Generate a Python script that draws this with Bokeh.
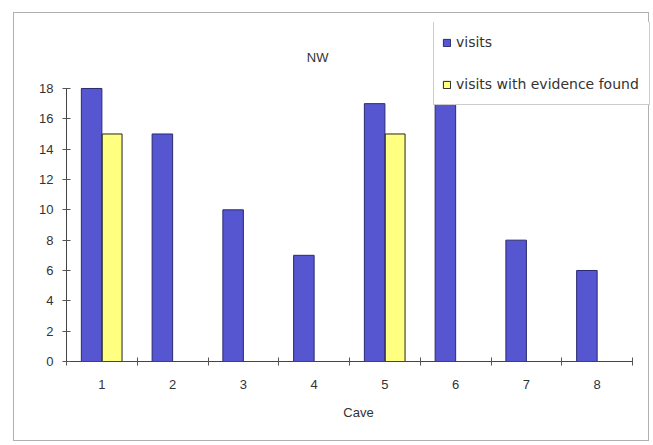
from bokeh.plotting import figure
from bokeh.models import ColumnDataSource, FixedTicker, Legend, LegendItem, Range1d, Label
from bokeh.embed import file_html
from bokeh.resources import INLINE

caves = [1, 2, 3, 4, 5, 6, 7, 8]
cave_labels = ["1", "2", "3", "4", "5", "6", "7", "8"]
visits = [18, 15, 10, 7, 17, 17, 8, 6]
evidence = [15, 0, 0, 0, 15, 0, 0, 0]
y_ticks = [0, 2, 4, 6, 8, 10, 12, 14, 16, 18]
title_text = "NW"
x_label = "Cave"

FONT = "Liberation Sans"
TXT = "#333333"

src = ColumnDataSource(dict(
    x_v=[c - 0.145 for c in caves],
    x_e=[c + 0.145 for c in caves],
    visits=visits,
    evidence=evidence,
))

# frame is extended above/right of the axes so the legend can sit outside the axis area
p = figure(width=636, height=429, output_backend="svg", toolbar_location=None,
           x_range=Range1d(0.5, 8.754), y_range=Range1d(0, 22.35),
           min_border_left=52, min_border_right=0, min_border_top=9, min_border_bottom=81,
           margin=(12, 0, 0, 13),
           styles={"border": "1px solid #b0b0b0"})
p.background_fill_color = "white"
p.border_fill_color = "white"
p.outline_line_color = None
p.xgrid.grid_line_color = None
p.ygrid.grid_line_color = None

r1 = p.vbar(x="x_v", top="visits", width=0.29, source=src,
            fill_color="#5656d0", line_color="#2a2a70", line_width=1)
r2 = p.vbar(x="x_e", top="evidence", width=0.28, source=src,
            fill_color="#ffff80", line_color="#222222", line_width=1)

p.add_layout(Label(x=4.05, y=20.04, text=title_text, text_align="center",
                   text_baseline="middle", text_font=FONT, text_font_size="13px",
                   text_color=TXT))

# x axis: labels at category centres, ticks at category boundaries
xt = FixedTicker(ticks=caves, minor_ticks=[c - 0.5 for c in caves] + [caves[-1] + 0.5])
p.xaxis.ticker = xt
p.xaxis.bounds = (0.5, 8.5)
p.xaxis.major_label_overrides = {c: l for c, l in zip(caves, cave_labels)}
p.xaxis.major_tick_line_color = None
p.xaxis.major_tick_in = 0
p.xaxis.major_tick_out = 4
p.xaxis.minor_tick_in = 4
p.xaxis.minor_tick_out = 4
p.xaxis.minor_tick_line_color = "#555555"
p.xaxis.major_label_standoff = 14
p.xaxis.axis_label = x_label
p.xaxis.axis_label_standoff = 13

p.yaxis.ticker = FixedTicker(ticks=y_ticks, minor_ticks=[])
p.yaxis.bounds = (0, 18)
p.yaxis.major_tick_in = 4
p.yaxis.major_tick_out = 4
p.yaxis.major_tick_line_color = "#555555"
p.yaxis.major_label_standoff = 9

for ax in (p.xaxis[0], p.yaxis[0]):
    ax.axis_line_color = "#444444"
    ax.major_label_text_font = FONT
    ax.major_label_text_font_size = "13px"
    ax.major_label_text_color = TXT
    ax.axis_label_text_font = FONT
    ax.axis_label_text_font_size = "13px"
    ax.axis_label_text_font_style = "normal"
    ax.axis_label_text_color = TXT

legend = Legend(items=[LegendItem(label="visits", renderers=[r1]),
                       LegendItem(label="visits with evidence found", renderers=[r2])],
                location=(367, 256))
legend.label_text_font = "DejaVu Sans"
legend.label_text_font_size = "14px"
legend.label_text_color = TXT
legend.glyph_width = 9
legend.glyph_height = 9
legend.label_height = 24
legend.label_width = 185
legend.label_standoff = 5
legend.spacing = 18
legend.padding = 8
legend.margin = 0
legend.border_line_color = "#999999"
legend.background_fill_color = "white"
legend.background_fill_alpha = 1.0
p.add_layout(legend, "center")

open("out.html", "w").write(file_html(p, INLINE))
